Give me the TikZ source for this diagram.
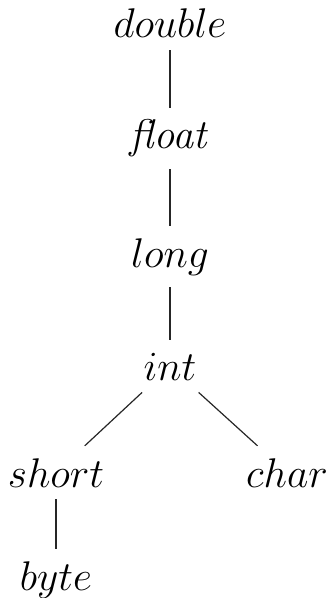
\documentclass[tikz,border=0pt]{standalone}
\begin{document}
\begin{tikzpicture}[x=0.5pt,y=-0.5pt,
  tnode/.style={anchor=base,inner sep=6pt,font=\fontsize{20}{24}\selectfont},
  edge/.style={line width=0.6pt,draw=black!85}]
\useasboundingbox (0,0) rectangle (327,598);
\node[tnode] (double) at (170,38) {$double$};
\node[tnode] (float) at (170,149) {$\mathit{float}$};
\node[tnode] (long) at (170,267) {$long$};
\node[tnode] (int) at (170,380) {$int$};
\node[tnode] (short) at (56,487) {$short$};
\node[tnode] (char) at (287,487) {$char$};
\node[tnode] (byte) at (56,590) {$byte$};
\draw[edge] (double) -- (float);
\draw[edge] (float) -- (long);
\draw[edge] (long) -- (int);
\draw[edge] (int) -- (short);
\draw[edge] (int) -- (char);
\draw[edge] (short) -- (byte);
\end{tikzpicture}
\end{document}
